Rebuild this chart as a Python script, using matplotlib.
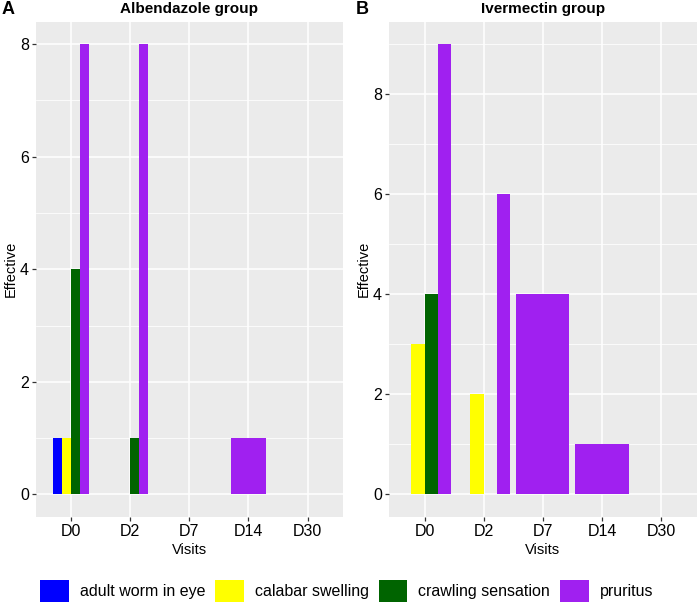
import numpy as np
import matplotlib
matplotlib.use("Agg")
import matplotlib.pyplot as plt
from matplotlib.patches import Patch

plt.rcParams['font.family'] = ['Liberation Sans', 'DejaVu Sans']

visits = ["D0", "D2", "D7", "D14", "D30"]
symptoms = ["adult worm in eye", "calabar swelling", "crawling sensation", "pruritus"]
colors = ["#0000FF", "#FFFF00", "#006400", "#A020F0"]

# NaN = symptom not recorded at that visit (no dodge slot)
albendazole = {
    "adult worm in eye":  [1, 0, np.nan, np.nan, np.nan],
    "calabar swelling":   [1, 0, np.nan, np.nan, np.nan],
    "crawling sensation": [4, 1, np.nan, np.nan, np.nan],
    "pruritus":           [8, 8, np.nan, 1, np.nan],
}
ivermectin = {
    "adult worm in eye":  [0, 0, np.nan, np.nan, np.nan],
    "calabar swelling":   [3, 2, np.nan, np.nan, np.nan],
    "crawling sensation": [4, 0, np.nan, np.nan, np.nan],
    "pruritus":           [9, 6, 4, 1, np.nan],
}

W, H = 700, 609
fig = plt.figure(figsize=(7, 6.09), dpi=100)
bg = "#EBEBEB"


def ax_rect(l, r, t, b):
    return [l / W, 1 - b / H, (r - l) / W, (b - t) / H]


def draw(ax, data, width, ymax, yticks, title, letter, lx):
    ax.set_facecolor(bg)
    x = np.arange(1, len(visits) + 1)
    for i, v in enumerate(visits):
        present = [s for s in symptoms if not np.isnan(data[s][i])]
        n = len(present)
        if n == 0:
            continue
        bw = width / n
        for j, s in enumerate(present):
            left = x[i] - width / 2 + j * bw
            ax.bar(left, data[s][i], width=bw, align="edge",
                   color=colors[symptoms.index(s)], linewidth=0, zorder=3)
    ax.set_xlim(0.4, 5.6)
    ax.set_ylim(-0.05 * ymax, 1.05 * ymax)
    ax.set_xticks(x)
    ax.set_xticklabels(visits, fontsize=11.5)
    ax.set_yticks(yticks)
    ax.set_yticklabels([str(t) for t in yticks], fontsize=11.5)
    minor = [t + 1 for t in yticks if t + 1 <= ymax * 1.05]
    ax.set_yticks(minor, minor=True)
    ax.grid(which="major", color="white", linewidth=1.1, zorder=0)
    ax.grid(which="minor", axis="y", color="white", linewidth=0.55, zorder=0)
    ax.tick_params(which="major", length=3, color="#333333", width=0.9, labelcolor="black", pad=2)
    ax.tick_params(which="minor", length=0)
    for sp in ax.spines.values():
        sp.set_visible(False)
    ax.set_title(title, fontsize=11, fontweight="bold", pad=6)
    ax.set_xlabel("Visits", fontsize=10.5, labelpad=3)
    ax.set_ylabel("Effective", fontsize=10.5, labelpad=1.5)
    fig.text(lx / W, 1 - 10 / H, letter, fontsize=13, fontweight="bold", ha="left", va="center")


axA = fig.add_axes(ax_rect(35.7, 343, 21.7, 517))
draw(axA, albendazole, 0.6, 8, [0, 2, 4, 6, 8], "Albendazole group", "A", 2)
axB = fig.add_axes(ax_rect(389, 696.7, 21.7, 517))
draw(axB, ivermectin, 0.9, 9, [0, 2, 4, 6, 8], "Ivermectin group", "B", 356)

handles = [Patch(facecolor=c, edgecolor="none", label=s) for s, c in zip(symptoms, colors)]
fig.legend(handles=handles, loc="center left", bbox_to_anchor=(40 / W, 1 - 591 / H), ncol=4,
           frameon=False, fontsize=11.5, handlelength=1.81, handleheight=1.81,
           handletextpad=0.69, columnspacing=0.6, borderpad=0, borderaxespad=0)

fig.savefig("out.png", dpi=100)
